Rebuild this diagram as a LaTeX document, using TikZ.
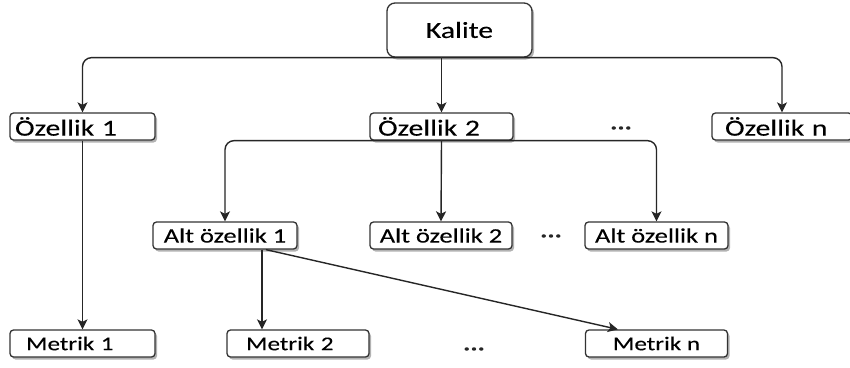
\documentclass[tikz,border=0pt]{standalone}
\usepackage{fontspec}
\setmainfont[FakeStretch=1.29, FakeBold=0.2]{Carlito}
\usetikzlibrary{shadows,arrows.meta,calc}
\begin{document}
\begin{tikzpicture}[x=1pt,y=-1pt,
  box/.style={draw=black!80, line width=1.3pt, fill=white, rounded corners=3.5pt,
    inner ysep=0pt, minimum height=27pt, text=black,
    drop shadow={shadow xshift=2pt, shadow yshift=-2.5pt, opacity=0.3, fill=black}},
  big/.style={font=\fontsize{23}{25}\selectfont},
  mid/.style={font=\fontsize{20.5}{22}\selectfont},
  sml/.style={font=\fontsize{19.5}{21}\selectfont},
  arr/.style={draw=black!85, line width=1.4pt, -{Stealth[length=10pt,width=10pt,inset=2.5pt]}},
  dots/.style={font=\fontsize{21}{22}\selectfont\bfseries, text=black!85}]
\clip (0,0) rectangle (850,367);
\fill[white] (0,0) rectangle (850,367);
% top
\node[box, big, rounded corners=8pt, minimum width=145pt, minimum height=54pt] (kal) at (459.5,30) {Kalite};
% level 1
\node[box, big, inner xsep=5pt, text width=135pt, align=left] (oz1) at (82.5,126.5) {Özellik 1};
\node[box, big, inner xsep=8pt, text width=127pt, align=left] (oz2) at (441.5,126.5) {Özellik 2};
\node[box, big, inner xsep=13pt, text width=114pt, align=left] (ozn) at (782,126.5) {Özellik n};
\node[dots] (d1) at (621,128) {...};
% level 2
\node[box, mid, minimum width=144pt, inner xsep=0pt] (alt1) at (225,235.5) {Alt özellik 1};
\node[box, mid, minimum width=142pt, inner xsep=0pt] (alt2) at (441,235.5) {Alt özellik 2};
\node[box, mid, minimum width=143pt, inner xsep=0pt] (altn) at (656.5,235.5) {Alt özellik n};
\node[dots] (d2) at (551,236) {...};
% level 3
\node[box, sml, inner xsep=16pt, text width=113pt, align=left] (met1) at (82.5,343.5) {Metrik 1};
\node[box, sml, inner xsep=19pt, text width=104pt, align=left] (met2) at (298,343.5) {Metrik 2};
\node[box, sml, minimum width=142pt, inner xsep=0pt] (metn) at (656.5,343.5) {Metrik n};
\node[dots] (d3) at (474,349) {...};
% connectors
\coordinate (ks) at (kal.south -| oz2.north);
\draw[arr, rounded corners=9pt] (ks) -| (oz1.north);
\draw[arr, rounded corners=9pt] (ks) -| (ozn.north);
\draw[arr] (ks) -- (oz2.north);
\draw[arr, rounded corners=9pt] (oz2.south) -| (alt1.north);
\draw[arr, rounded corners=9pt] (oz2.south) -| (altn.north);
\draw[arr] (oz2.south) -- (alt2.north);
\draw[arr] (oz1.south) -- (met1.north);
\coordinate (a1a) at ($(alt1.south)+(37,0)$);
\coordinate (a1b) at ($(alt1.south)+(41,0)$);
\coordinate (mnt) at ($(metn.north west)+(33,0)$);
\draw[arr] (a1a) -- (a1a |- met2.north);
\draw[arr] (a1b) -- (mnt);
\end{tikzpicture}
\end{document}
